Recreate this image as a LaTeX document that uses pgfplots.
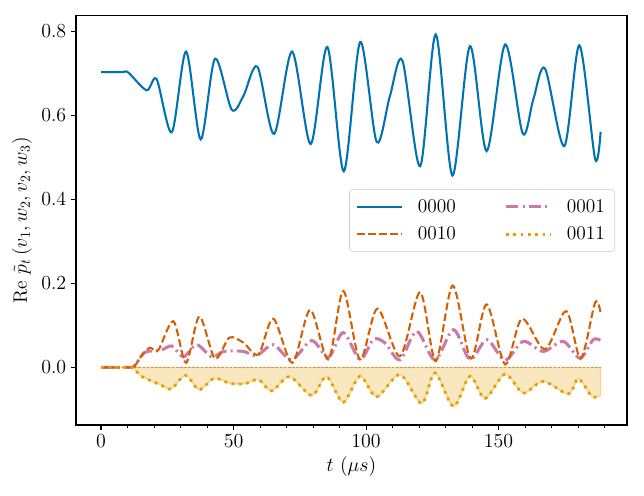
\documentclass[border=0pt]{standalone}
\usepackage{fontspec}
\usepackage{pgfplots}
\pgfplotsset{compat=1.18}
\definecolor{cblue}{RGB}{0,114,178}
\definecolor{corange}{RGB}{213,94,0}
\definecolor{cpink}{RGB}{204,121,167}
\definecolor{cyellow}{RGB}{230,159,0}
\definecolor{cfill}{RGB}{249,231,191}
\definecolor{czero}{RGB}{190,160,100}
\definecolor{lgray}{RGB}{204,204,204}
\newcommand\fs{\fontsize{14}{16.8}\selectfont}
\begin{document}
\begin{tikzpicture}
\path[use as bounding box] (-54.9pt,-51.3pt) rectangle (410.5pt,307.1pt);
\begin{axis}[
  at={(0pt,0pt)}, anchor=south west,
  scale only axis, width=398.2pt, height=295.6pt,
  xmin=-9.45, xmax=198.45, ymin=-0.137, ymax=0.837,
  axis line style={line width=0.8pt},
  tick pos=left, tick align=outside,
  major tick length=3.5pt, minor tick length=2pt,
  every tick/.style={black, line width=0.8pt},
  minor tick style={line width=0.6pt},
  xtick={0,50,100,150},
  minor xtick={10,20,30,40,60,70,80,90,110,120,130,140,160,170,180,190},
  ytick={0,0.2,0.4,0.6,0.8},
  yticklabel style={/pgf/number format/.cd, fixed, fixed zerofill, precision=1},
  tick label style={font=\fs},
  label style={font=\fs},
  xlabel={$t\ (\mu s)$},
  ylabel={Re $\tilde{p}_t\,(v_1, w_2, v_2, w_3)$},
  legend columns=2,
  legend cell align=left,
  legend style={at={(0.978,0.5)}, anchor=east, draw=lgray, rounded corners=2pt,
    font=\fs, fill=white, fill opacity=0.8, text opacity=1,
    inner xsep=5pt, inner ysep=5pt, row sep=5pt,
    /tikz/every odd column/.append style={column sep=9pt},
    /tikz/every even column/.append style={column sep=33pt}},
  legend image code/.code={\draw[#1] (0pt,0pt) -- (32pt,0pt);},
]
% fill of 0011
\addplot[forget plot, smooth, fill=cfill, draw=cyellow, draw opacity=0.3, line width=1.2pt] coordinates {
(0,0)(10,0)(12.5,-0.003)(15.2,-0.021)(22.3,-0.041)(26.5,-0.051)(31.9,-0.019)(37,-0.053)(42.7,-0.026)(48.7,-0.038)(54.3,-0.039)(59.4,-0.029)(64.4,-0.056)(71.1,-0.022)(79.5,-0.067)(85.1,-0.022)(91.4,-0.083)(97.7,-0.021)(104.0,-0.070)(112.8,-0.017)(121.0,-0.086)(126.0,-0.013)(133.0,-0.093)(139.2,-0.021)(144.9,-0.074)(152.4,-0.016)(159.3,-0.061)(166.8,-0.033)(176.3,-0.063)(180.1,-0.027)(185.2,-0.069)(188.5,-0.067)
} \closedcycle;
\addplot[forget plot, czero, line width=1pt, dash pattern=on 2pt off 1pt] coordinates {(0,0)(188.5,0)};
% 0000
\addplot[cblue, line width=1.5pt, smooth] coordinates {
(0,0.703)(8,0.703)(10.3,0.702)(17.2,0.660)(21.0,0.686)(26.7,0.560)(32.1,0.752)(37.6,0.543)(43.0,0.735)(49.3,0.614)(53.7,0.646)(59.0,0.716)(65.3,0.556)(72.1,0.752)(79.1,0.532)(85.4,0.763)(91.6,0.467)(97.8,0.775)(104.0,0.537)(109.0,0.646)(113.7,0.731)(120.4,0.479)(126.3,0.793)(132.6,0.457)(139.2,0.765)(145.5,0.515)(152.5,0.769)(159.1,0.557)(163.1,0.638)(167.5,0.712)(174.8,0.527)(180.5,0.767)(186.4,0.497)(188.5,0.561)
};
\addlegendentry{0000}
% 0001
\addplot[cpink, line width=2.2pt, smooth, dash pattern=on 9pt off 3pt on 1.5pt off 3pt] coordinates {
(0,0)(10,0)(12.5,0.003)(16.6,0.036)(22.3,0.040)(26.7,0.051)(31.1,0.025)(36.1,0.054)(41.8,0.025)(46.2,0.038)(53.7,0.038)(58.7,0.028)(65.0,0.054)(71.9,0.018)(79.5,0.064)(85.8,0.024)(91.4,0.083)(97.7,0.019)(102.8,0.067)(107.2,0.058)(112.8,0.018)(119.1,0.086)(126.0,0.018)(133.0,0.090)(139.2,0.019)(145.6,0.066)(152.4,0.017)(159.3,0.062)(166.8,0.038)(174.4,0.062)(180.7,0.022)(185.7,0.066)(188.5,0.064)
};
\addlegendentry{0001}
% 0010
\addplot[corange, line width=1.5pt, smooth, dash pattern=on 5.5pt off 2.4pt] coordinates {
(0,0)(10,0)(12.5,0.002)(15.5,0.03)(18.5,0.047)(21.6,0.041)(27.3,0.110)(32.1,0.011)(37.1,0.121)(43.0,0.021)(48.4,0.071)(53.7,0.059)(59.4,0.031)(65.0,0.116)(72.2,0.011)(78.9,0.137)(85.8,0.019)(91.4,0.182)(97.7,0.019)(104.3,0.140)(112.8,0.027)(120.4,0.179)(126.3,0.015)(132.7,0.195)(139.5,0.021)(145.5,0.150)(152.5,0.007)(158.8,0.116)(167.5,0.043)(175.5,0.134)(181.0,0.021)(186.4,0.154)(188.5,0.130)
};
\addlegendentry{0010}
% 0011
\addplot[cyellow, line width=2pt, smooth, dash pattern=on 2pt off 3.3pt] coordinates {
(0,0)(10,0)(12.5,-0.003)(15.2,-0.021)(22.3,-0.041)(26.5,-0.051)(31.9,-0.019)(37,-0.053)(42.7,-0.026)(48.7,-0.038)(54.3,-0.039)(59.4,-0.029)(64.4,-0.056)(71.1,-0.022)(79.5,-0.067)(85.1,-0.022)(91.4,-0.083)(97.7,-0.021)(104.0,-0.070)(112.8,-0.017)(121.0,-0.086)(126.0,-0.013)(133.0,-0.093)(139.2,-0.021)(144.9,-0.074)(152.4,-0.016)(159.3,-0.061)(166.8,-0.033)(176.3,-0.063)(180.1,-0.027)(185.2,-0.069)(188.5,-0.067)
};
\addlegendentry{0011}
\end{axis}
\end{tikzpicture}
\end{document}
